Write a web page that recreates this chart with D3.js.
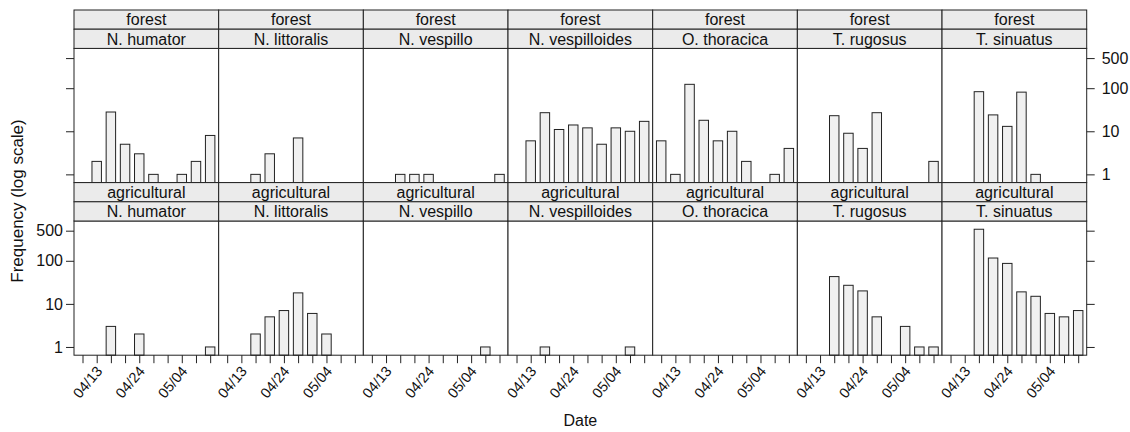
<!DOCTYPE html>
<html>
<head>
<meta charset="utf-8">
<script src="https://cdn.jsdelivr.net/npm/d3@7"></script>
<style>
  html, body { margin: 0; padding: 0; background: #fff; }
  svg { display: block; font-family: "Liberation Sans", Arial, Helvetica, sans-serif; }
</style>
</head>
<body>
<svg id="chart" width="1130" height="432"></svg>
<script>
// Beetle catches per sampling date, faceted by habitat (rows) and species (columns)
const species = ["N. humator", "N. littoralis", "N. vespillo", "N. vespilloides",
                 "O. thoracica", "T. rugosus", "T. sinuatus"];
const habitats = ["forest", "agricultural"];

// ten sampling dates; only every third one carries a label
const dateIndex = [1, 2, 3, 4, 5, 6, 7, 8, 9, 10];
const dateLabels = ["", "04/13", "", "", "04/24", "", "", "05/04", "", ""];

// counts per date (0 = nothing caught), one row per species
const forestCounts = [
  [0, 2, 28, 5, 3, 1, 0, 1, 2, 8],
  [0, 0, 1, 3, 0, 7, 0, 0, 0, 0],
  [0, 0, 1, 1, 1, 0, 0, 0, 0, 1],
  [0, 6, 27, 11, 14, 12, 5, 12, 10, 17],
  [6, 1, 123, 18, 6, 10, 2, 0, 1, 4],
  [0, 0, 23, 9, 4, 27, 0, 0, 0, 2],
  [0, 0, 83, 24, 13, 81, 1, 0, 0, 0]
];
const agriculturalCounts = [
  [0, 0, 3, 0, 2, 0, 0, 0, 0, 1],
  [0, 0, 2, 5, 7, 18, 6, 2, 0, 0],
  [0, 0, 0, 0, 0, 0, 0, 0, 1, 0],
  [0, 0, 1, 0, 0, 0, 0, 0, 1, 0],
  [0, 0, 0, 0, 0, 0, 0, 0, 0, 0],
  [0, 0, 43, 27, 20, 5, 0, 3, 1, 1],
  [0, 0, 540, 116, 87, 19, 15, 6, 5, 7]
];
const countsByHabitat = [forestCounts, agriculturalCounts];

const yTicks = [1, 10, 100, 500];

// ---- layout ----
const frameLeft = 74, frameRight = 1086.7, frameTop = 10;
const stripH = 19.2, panelH = 134.2;
const colW = (frameRight - frameLeft) / species.length;
const rowH = 2 * stripH + panelH;

const ink = "#222";
const stripFill = "#ebebeb";
const barFill = "#f0f0f0";
const fontSize = 16;

const svg = d3.select("#chart");

// log scale padded like lattice: 7% of the log range on either side
const maxCount = d3.max(countsByHabitat.flat(2));
const logMax = Math.log10(maxCount);
const pad = 0.07 * logMax;
const yDomain = [Math.pow(10, -pad), Math.pow(10, logMax + pad)];

habitats.forEach((hab, r) => {
  const rowTop = frameTop + r * rowH;
  const pTop = rowTop + 2 * stripH;
  const pBottom = pTop + panelH;
  const y = d3.scaleLog().domain(yDomain).range([pBottom, pTop]);

  species.forEach((sp, c) => {
    const x0 = frameLeft + c * colW;
    const x = d3.scaleLinear().domain([0.4, dateIndex.length + 0.6]).range([x0, x0 + colW]);
    const unit = x(2) - x(1);
    const barW = unit * 2 / 3;

    const g = svg.append("g");

    // panel background
    g.append("rect")
      .attr("x", x0).attr("y", pTop).attr("width", colW).attr("height", panelH)
      .attr("fill", "#fff");

    // bars
    const counts = countsByHabitat[r][c];
    g.selectAll("rect.bar")
      .data(dateIndex.map((d, i) => ({ d, v: counts[i] })).filter(o => o.v > 0))
      .join("rect")
      .attr("class", "bar")
      .attr("x", o => x(o.d) - barW / 2)
      .attr("width", barW)
      .attr("y", o => y(o.v))
      .attr("height", o => pBottom - y(o.v))
      .attr("fill", barFill)
      .attr("stroke", ink)
      .attr("stroke-width", 1);

    // panel frame
    g.append("rect")
      .attr("x", x0).attr("y", pTop).attr("width", colW).attr("height", panelH)
      .attr("fill", "none").attr("stroke", ink).attr("stroke-width", 1);

    // two strips: habitat above species
    [hab, sp].forEach((label, k) => {
      const sy = rowTop + k * stripH;
      g.append("rect")
        .attr("x", x0).attr("y", sy).attr("width", colW).attr("height", stripH)
        .attr("fill", stripFill).attr("stroke", ink).attr("stroke-width", 1);
      g.append("text")
        .attr("x", x0 + colW / 2).attr("y", sy + stripH / 2)
        .attr("dy", "0.36em")
        .attr("text-anchor", "middle")
        .attr("font-size", fontSize)
        .attr("fill", "#111")
        .text(label);
    });

    // left axis on first column, labels only on the lower row
    if (c === 0) {
      const ax = svg.append("g")
        .call(d3.axisLeft(y).tickValues(yTicks).tickSize(8).tickPadding(3)
          .tickFormat(r === 1 ? d3.format("d") : () => ""))
        .attr("transform", `translate(${x0},0)`);
      ax.select(".domain").remove();
      ax.selectAll("line").attr("stroke", ink);
      ax.selectAll("text").attr("font-size", fontSize).attr("fill", "#111")
        .attr("font-family", "Liberation Sans, Arial, sans-serif");
    }
    // right axis on last column, labels only on the upper row
    if (c === species.length - 1) {
      const ax = svg.append("g")
        .call(d3.axisRight(y).tickValues(yTicks).tickSize(8).tickPadding(7)
          .tickFormat(r === 0 ? d3.format("d") : () => ""))
        .attr("transform", `translate(${x0 + colW},0)`);
      ax.select(".domain").remove();
      ax.selectAll("line").attr("stroke", ink);
      ax.selectAll("text").attr("font-size", fontSize).attr("fill", "#111")
        .attr("font-family", "Liberation Sans, Arial, sans-serif");
    }
    // date axis under the lower row, slanted labels
    if (r === habitats.length - 1) {
      const ax = svg.append("g")
        .attr("transform", `translate(0,${pBottom})`)
        .call(d3.axisBottom(x).tickValues(dateIndex).tickSize(8)
          .tickFormat(d => dateLabels[d - 1]));
      ax.select(".domain").remove();
      ax.selectAll("line").attr("stroke", ink);
      ax.selectAll("text")
        .attr("font-size", 14.5).attr("fill", "#111")
        .attr("font-family", "Liberation Sans, Arial, sans-serif")
        .attr("text-anchor", "end")
        .attr("y", 0).attr("dy", "0.35em")
        .attr("transform", "translate(2,13) rotate(-50)");
    }
  });
});

// axis titles
svg.append("text")
  .attr("transform", "translate(17,201) rotate(-90)")
  .attr("text-anchor", "middle")
  .attr("dy", "0.35em")
  .attr("font-size", 17)
  .attr("fill", "#111")
  .text("Frequency (log scale)");

svg.append("text")
  .attr("x", (frameLeft + frameRight) / 2)
  .attr("y", 420)
  .attr("text-anchor", "middle")
  .attr("dy", "0.35em")
  .attr("font-size", fontSize)
  .attr("fill", "#111")
  .text("Date");
</script>
</body>
</html>
